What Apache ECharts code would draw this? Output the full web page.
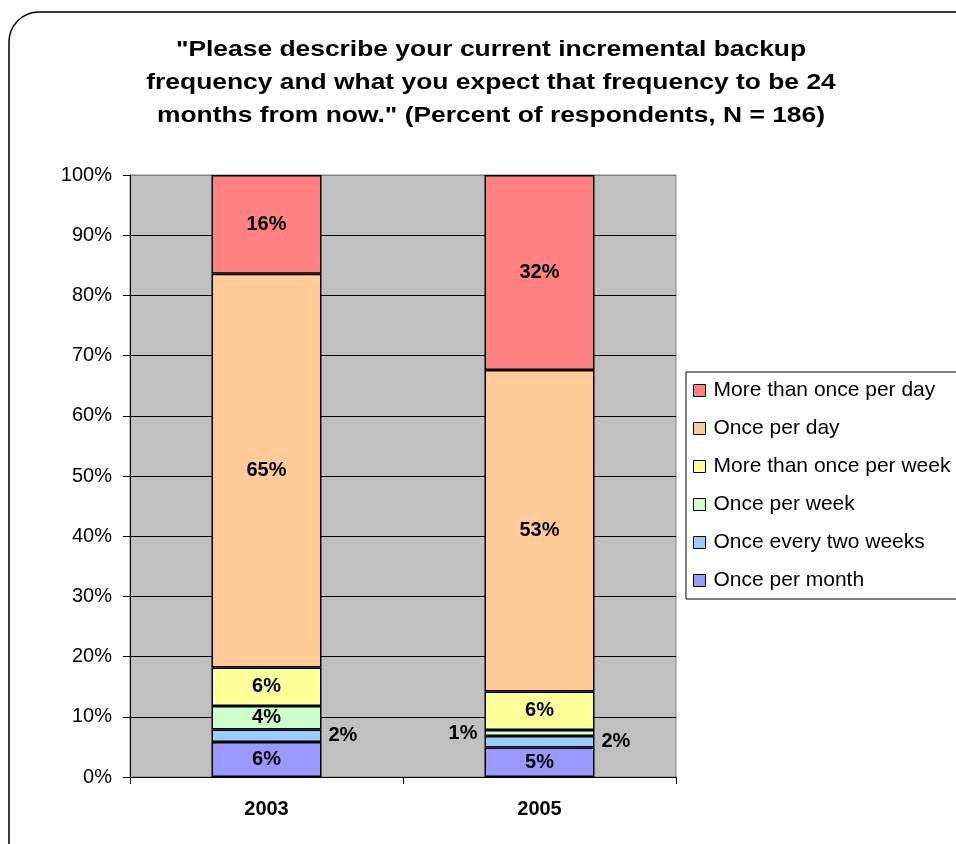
<!DOCTYPE html>
<html>
<head>
<meta charset="utf-8">
<script src="https://cdn.jsdelivr.net/npm/echarts@6/dist/echarts.min.js"></script>
<style>
  html, body { margin: 0; padding: 0; background: #fff; }
  #chart { width: 956px; height: 844px; }
</style>
</head>
<body>
<div id="chart"></div>
<script>
// data (percent of respondents)
const years = ['2003', '2005'];
const seriesNames = [
  'Once per month',
  'Once every two weeks',
  'Once per week',
  'More than once per week',
  'Once per day',
  'More than once per day'
];
const oncePerMonth = [5.8, 4.9];
const onceEveryTwoWeeks = [2.1, 1.9];
const oncePerWeek = [3.9, 1.0];
const moreThanOncePerWeek = [6.4, 6.4];
const oncePerDay = [65.4, 53.4];
const moreThanOncePerDay = [16.4, 32.4];
const yTicks = [0, 10, 20, 30, 40, 50, 60, 70, 80, 90, 100];

const titleLines = [
  '"Please describe your current incremental backup',
  'frequency and what you expect that frequency to be 24',
  'months from now." (Percent of respondents, N = 186)'
];

const seriesValues = [oncePerMonth, onceEveryTwoWeeks, oncePerWeek, moreThanOncePerWeek, oncePerDay, moreThanOncePerDay];
const colors = ['#9999FF', '#99CCFF', '#CCFFCC', '#FFFF99', '#FFCC99', '#FF8080'];

// small segments get their label outside the bar
const outsideLabel = {
  'Once every two weeks': ['right', 'right'],
  'Once per week': [null, 'left']
};

const FONT = 'Liberation Sans, Arial, sans-serif';
const chart = echarts.init(document.getElementById('chart'));

const labelFont = { fontFamily: FONT, fontWeight: 'bold', fontSize: 20, color: '#000' };

const series = seriesNames.map((name, i) => ({
  name: name,
  type: 'bar',
  stack: 'total',
  barWidth: 110,
  itemStyle: { color: colors[i], borderColor: '#000', borderWidth: 1.5 },
  label: Object.assign({ show: true, position: 'inside', formatter: p => Math.round(p.value) + '%' }, labelFont),
  data: seriesValues[i].map((v, j) => {
    const pos = outsideLabel[name] && outsideLabel[name][j];
    return pos ? { value: v, label: { position: pos, distance: 7 } } : v;
  })
}));

chart.setOption({
  animation: false,
  backgroundColor: '#fff',
  textStyle: { fontFamily: FONT },
  graphic: [
    {
      type: 'rect',
      shape: { x: 9, y: 12, width: 1000, height: 900, r: 30 },
      style: { fill: null, stroke: '#000', lineWidth: 1.5 },
      silent: true
    },
    {
      // title text is drawn a little wider than the font, as in the source
      type: 'text',
      x: 491,
      y: 33,
      scaleX: 1.2,
      silent: true,
      style: {
        text: titleLines.join('\n'),
        align: 'center',
        verticalAlign: 'top',
        font: 'bold 22px ' + FONT,
        lineHeight: 33,
        fill: '#000'
      }
    }
  ],
  legend: {
    orient: 'vertical',
    left: 686,
    top: 372,
    data: seriesNames.slice().reverse(),
    icon: 'rect',
    itemWidth: 12,
    itemHeight: 12,
    itemGap: 17,
    padding: [8, 40, 8, 7],
    borderColor: '#000',
    borderWidth: 1,
    backgroundColor: '#fff',
    itemStyle: { borderColor: '#000', borderWidth: 1 },
    textStyle: { fontFamily: FONT, fontSize: 21, color: '#000', padding: [0, 0, 0, 3] }
  },
  grid: {
    left: 130,
    right: 280,
    top: 175,
    bottom: 67,
    show: true,
    backgroundColor: '#C0C0C0',
    borderColor: '#808080',
    borderWidth: 1
  },
  xAxis: {
    type: 'category',
    data: years,
    axisLine: { lineStyle: { color: '#000', width: 1 } },
    axisTick: { show: true, length: 7, lineStyle: { color: '#000' } },
    axisLabel: { margin: 22, fontFamily: FONT, fontWeight: 'bold', fontSize: 20, color: '#000' }
  },
  yAxis: {
    type: 'value',
    min: yTicks[0],
    max: yTicks[yTicks.length - 1],
    interval: yTicks[1] - yTicks[0],
    axisLine: { show: true, lineStyle: { color: '#000', width: 1 } },
    axisTick: { show: true, length: 7, lineStyle: { color: '#000' } },
    axisLabel: { margin: 18, formatter: '{value}%', fontFamily: FONT, fontSize: 20, color: '#000' },
    splitLine: { show: true, lineStyle: { color: yTicks.map((t, i) => i === yTicks.length - 1 ? '#808080' : '#000'), width: 1 } }
  },
  series: series
});
</script>
</body>
</html>
